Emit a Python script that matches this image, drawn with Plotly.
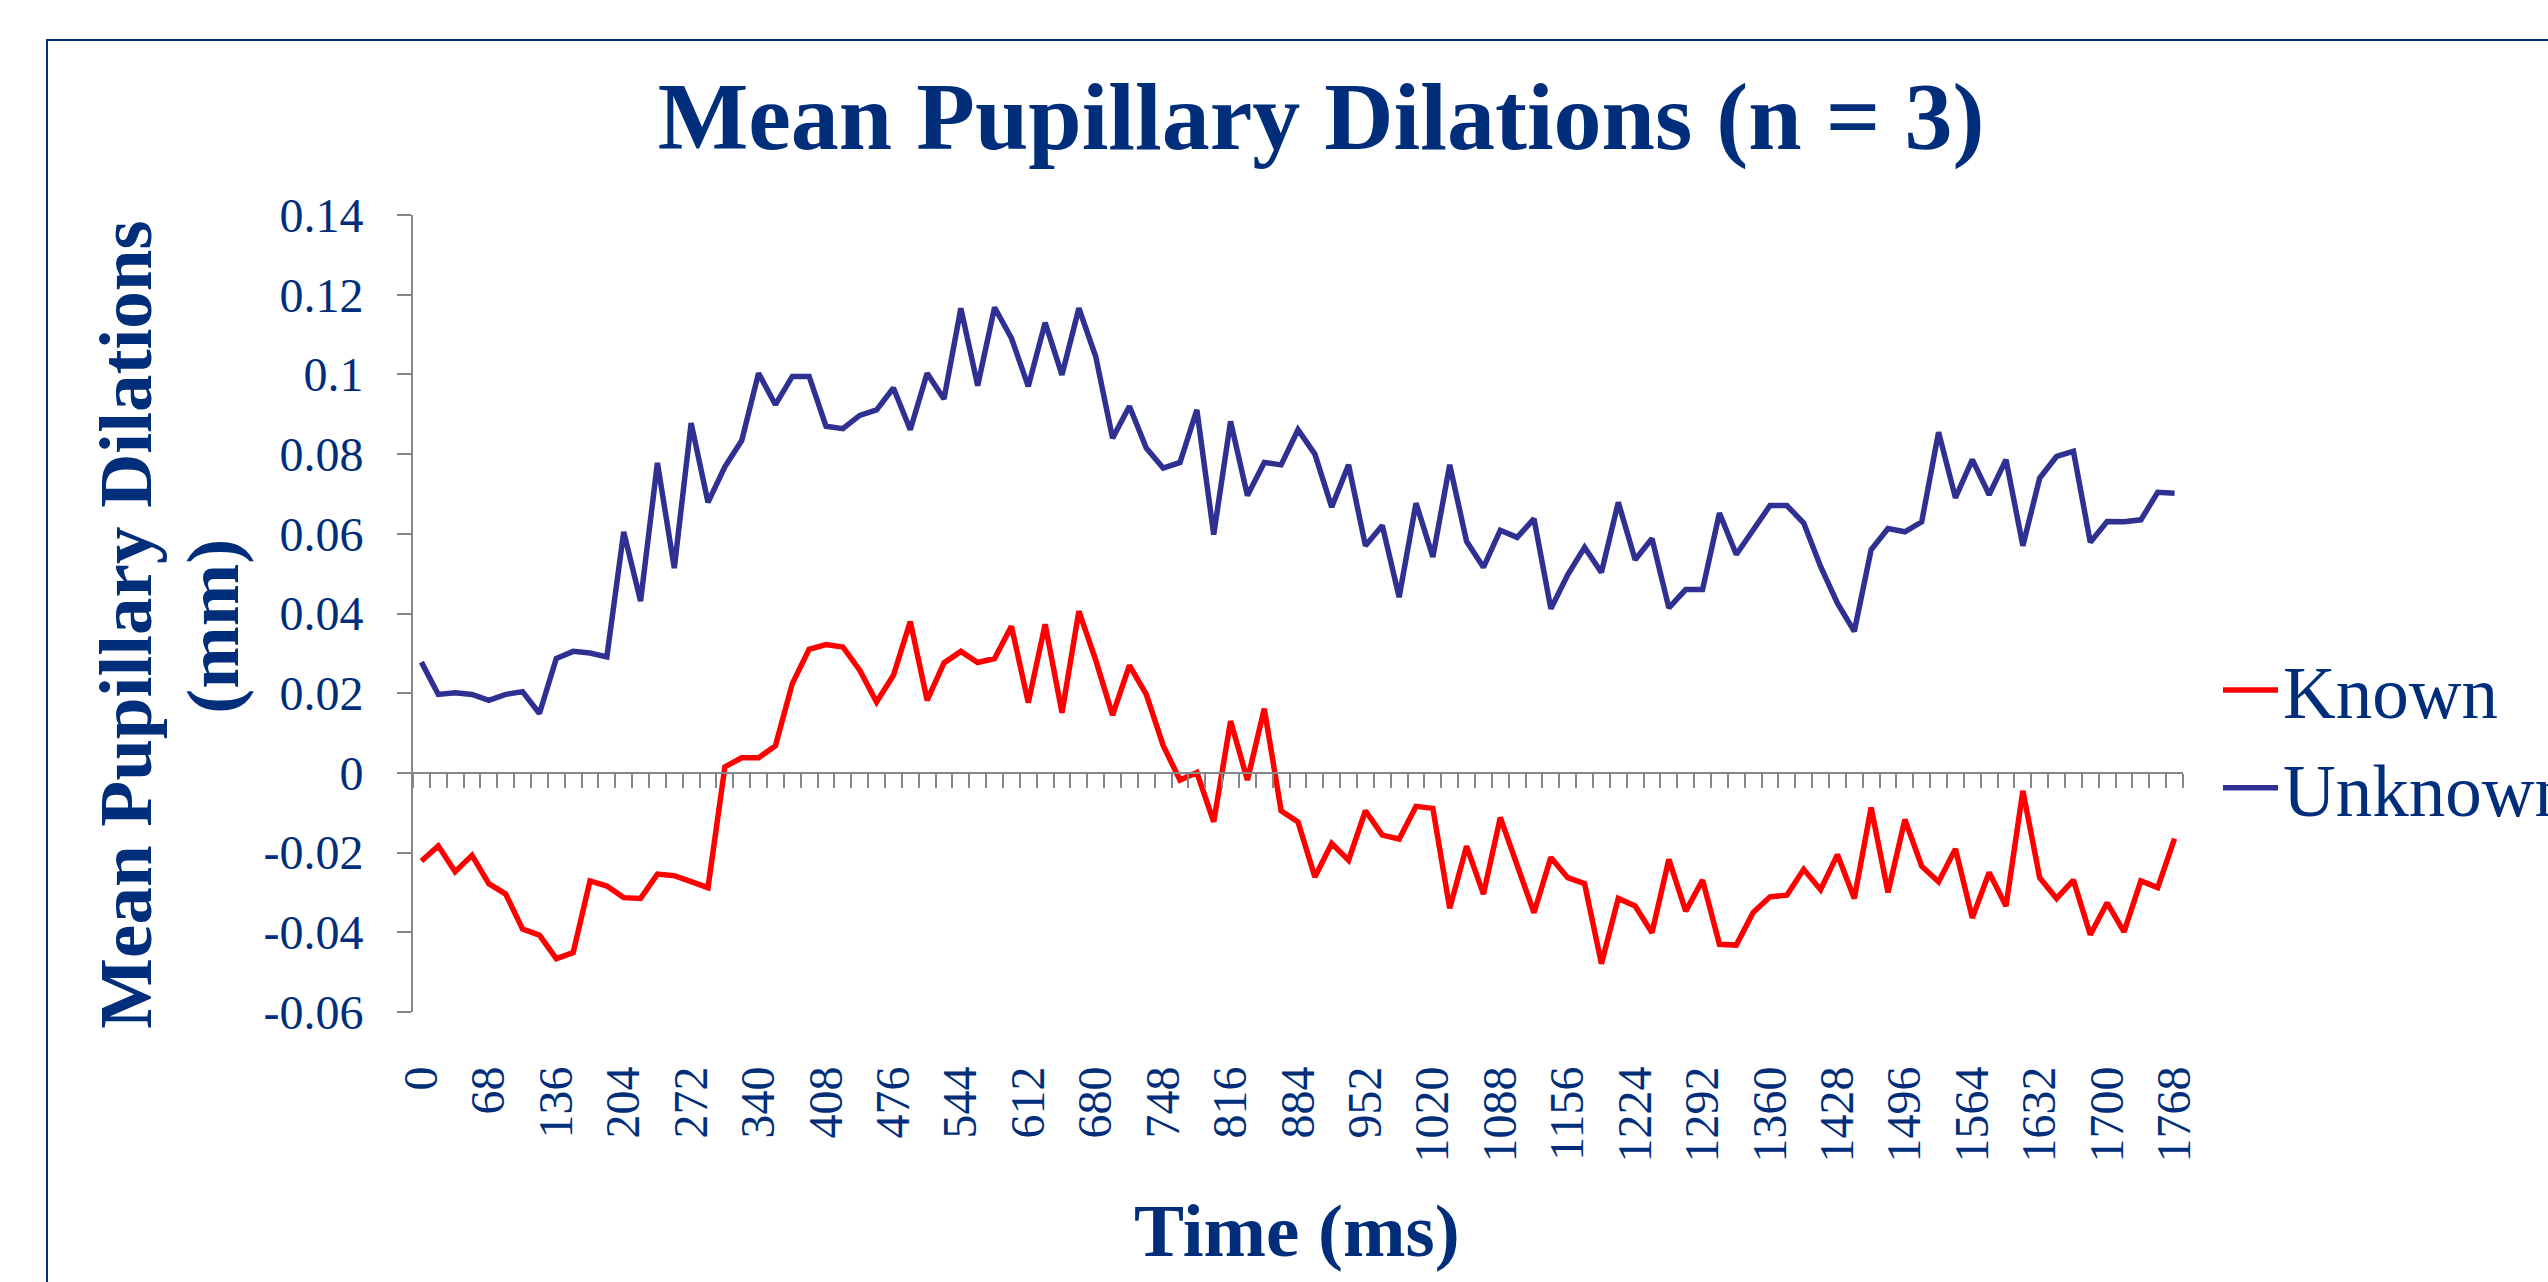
import plotly.graph_objects as go

# ---------------- data ----------------
time_ms = [0, 17, 34, 51, 68, 85, 102, 119, 136, 153, 170, 187, 204, 221, 238, 255, 272, 289, 306, 323,
           340, 357, 374, 391, 408, 425, 442, 459, 476, 493, 510, 527, 544, 561, 578, 595, 612, 629, 646, 663,
           680, 697, 714, 731, 748, 765, 782, 799, 816, 833, 850, 867, 884, 901, 918, 935, 952, 969, 986, 1003,
           1020, 1037, 1054, 1071, 1088, 1105, 1122, 1139, 1156, 1173, 1190, 1207, 1224, 1241, 1258, 1275, 1292, 1309, 1326, 1343,
           1360, 1377, 1394, 1411, 1428, 1445, 1462, 1479, 1496, 1513, 1530, 1547, 1564, 1581, 1598, 1615, 1632, 1649, 1666, 1683,
           1700, 1717, 1734, 1751, 1768]

known = [-0.0221, -0.0183, -0.0248, -0.0207, -0.0278, -0.0304, -0.0392, -0.0407, -0.0466, -0.0451,
         -0.0271, -0.0284, -0.0313, -0.0315, -0.0254, -0.0258, -0.0273, -0.0288, 0.0015, 0.0038,
         0.0038, 0.0068, 0.0224, 0.0310, 0.0322, 0.0316, 0.0258, 0.0178, 0.0245, 0.0380,
         0.0182, 0.0276, 0.0305, 0.0277, 0.0287, 0.0368, 0.0176, 0.0373, 0.0151, 0.0406,
         0.0283, 0.0145, 0.0270, 0.0197, 0.0069, -0.0018, 0.0001, -0.0123, 0.0130, -0.0018,
         0.0161, -0.0095, -0.0123, -0.0261, -0.0177, -0.0219, -0.0095, -0.0156, -0.0166, -0.0084,
         -0.0089, -0.0340, -0.0184, -0.0304, -0.0112, -0.0236, -0.0351, -0.0212, -0.0263, -0.0278,
         -0.0479, -0.0315, -0.0334, -0.0401, -0.0217, -0.0347, -0.0269, -0.0430, -0.0432, -0.0350,
         -0.0311, -0.0307, -0.0242, -0.0293, -0.0205, -0.0315, -0.0087, -0.0300, -0.0117, -0.0234,
         -0.0273, -0.0191, -0.0364, -0.0250, -0.0334, -0.0045, -0.0263, -0.0315, -0.0269, -0.0406,
         -0.0326, -0.0399, -0.0271, -0.0288, -0.0165]

unknown = [0.0278, 0.0197, 0.0201, 0.0197, 0.0182, 0.0197, 0.0204, 0.0149, 0.0287, 0.0305,
           0.0301, 0.0291, 0.0605, 0.0431, 0.0778, 0.0514, 0.0878, 0.0679, 0.0768, 0.0834,
           0.1003, 0.0924, 0.0995, 0.0995, 0.0870, 0.0864, 0.0897, 0.0911, 0.0966, 0.0861,
           0.1003, 0.0938, 0.1166, 0.0972, 0.1168, 0.1091, 0.0970, 0.1130, 0.0999, 0.1166,
           0.1045, 0.0840, 0.0920, 0.0815, 0.0765, 0.0779, 0.0911, 0.0598, 0.0882, 0.0696,
           0.0779, 0.0773, 0.0861, 0.0800, 0.0667, 0.0773, 0.0570, 0.0621, 0.0441, 0.0677,
           0.0542, 0.0773, 0.0581, 0.0516, 0.0609, 0.0591, 0.0638, 0.0412, 0.0497, 0.0566,
           0.0503, 0.0679, 0.0535, 0.0588, 0.0414, 0.0460, 0.0460, 0.0652, 0.0548, 0.0609,
           0.0671, 0.0671, 0.0627, 0.0518, 0.0426, 0.0355, 0.0560, 0.0613, 0.0605, 0.0630,
           0.0855, 0.0690, 0.0786, 0.0698, 0.0786, 0.0570, 0.0740, 0.0794, 0.0807, 0.0579,
           0.0631, 0.0630, 0.0635, 0.0704, 0.0702]

y_tick_vals = [-0.06, -0.04, -0.02, 0, 0.02, 0.04, 0.06, 0.08, 0.1, 0.12, 0.14]
y_tick_text = ["-0.06", "-0.04", "-0.02", "0", "0.02", "0.04", "0.06", "0.08", "0.1", "0.12", "0.14"]

# ---------------- style ----------------
W, H = 2548, 1282
L, R, T, B = 413, 365, 215, 270
PW, PH = W - L - R, H - T - B
NAVY = "rgb(0,46,122)"
GRAY = "rgb(134,134,134)"
FONT = "Liberation Serif"
cats = [str(t) for t in time_ms]


def px_x(x):
    return (x - L) / PW


def px_y(y):
    return (H - B - y) / PH


fig = go.Figure()
fig.add_trace(go.Scatter(x=cats, y=known, name="Known", mode="lines",
                         line=dict(color="#FF0000", width=5.5)))
fig.add_trace(go.Scatter(x=cats, y=unknown, name="Unknown", mode="lines",
                         line=dict(color="rgb(46,49,146)", width=5.5)))
# carrier for the zero-crossing category axis (transparent)
fig.add_trace(go.Scatter(x=cats, y=known, xaxis="x2", mode="lines",
                         line=dict(color="rgba(0,0,0,0)", width=0),
                         showlegend=False, hoverinfo="skip"))

fig.update_layout(
    width=W, height=H,
    margin=dict(l=L, r=R, t=T, b=B, autoexpand=False),
    paper_bgcolor="white", plot_bgcolor="white",
    font=dict(family=FONT, color=NAVY),
    title=dict(text="<b>Mean Pupillary Dilations (n = 3)</b>",
               font=dict(family=FONT, size=96, color=NAVY),
               x=1321 / W, xref="container", xanchor="center",
               y=1 - 149 / H, yref="container", yanchor="bottom"),
    xaxis=dict(type="category", categoryorder="array", categoryarray=cats,
               range=[-0.5, len(cats) - 0.5], dtick=4, tick0=0,
               showline=False, ticks="", showgrid=False, zeroline=False,
               tickangle=-90, tickfont=dict(family=FONT, size=48, color=NAVY),
               ticklabelstandoff=44),
    xaxis2=dict(type="category", categoryorder="array", categoryarray=cats,
                overlaying="x", anchor="free", position=0.3, side="bottom",
                range=[-0.5, len(cats) - 0.5], dtick=1, tickson="boundaries",
                ticks="outside", ticklen=14, tickwidth=2, tickcolor=GRAY,
                showline=True, linecolor=GRAY, linewidth=2,
                showticklabels=False, showgrid=False, zeroline=False),
    yaxis=dict(range=[-0.06, 0.14], tickvals=y_tick_vals, ticktext=y_tick_text,
               ticks="outside", ticklen=14, tickwidth=2, tickcolor=GRAY,
               showline=True, linecolor=GRAY, linewidth=2,
               showgrid=False, zeroline=False,
               tickfont=dict(family=FONT, size=48, color=NAVY),
               ticklabelstandoff=24),
    legend=dict(x=px_x(2218), xanchor="left", y=px_y(739), yanchor="middle",
                font=dict(family=FONT, size=73, color=NAVY), itemwidth=55,
                bgcolor="rgba(0,0,0,0)", borderwidth=0, tracegroupgap=0),
    showlegend=True,
)

# y-axis title (two lines) and x-axis title
fig.add_annotation(text="<b>Mean Pupillary Dilations</b>", textangle=-90,
                   xref="paper", yref="paper", x=px_x(124.7), y=px_y(625),
                   xanchor="center", yanchor="middle", showarrow=False,
                   font=dict(family=FONT, size=75, color=NAVY))
fig.add_annotation(text="<b>(mm)</b>", textangle=-90,
                   xref="paper", yref="paper", x=px_x(211.7), y=px_y(626),
                   xanchor="center", yanchor="middle", showarrow=False,
                   font=dict(family=FONT, size=75, color=NAVY))
fig.add_annotation(text="<b>Time (ms)</b>",
                   xref="paper", yref="paper", x=px_x(1297), y=px_y(1230),
                   xanchor="center", yanchor="middle", showarrow=False,
                   font=dict(family=FONT, size=75, color=NAVY))

# outer chart-area border
fig.add_shape(type="rect", xref="paper", yref="paper",
              x0=px_x(47), y0=px_y(1400), x1=px_x(2700), y1=px_y(40),
              line=dict(color=NAVY, width=2), fillcolor="rgba(0,0,0,0)", layer="below")

fig.write_html("out.html", config={"displayModeBar": False},
               post_script="document.body.style.margin='0';document.body.style.overflow='hidden';")
